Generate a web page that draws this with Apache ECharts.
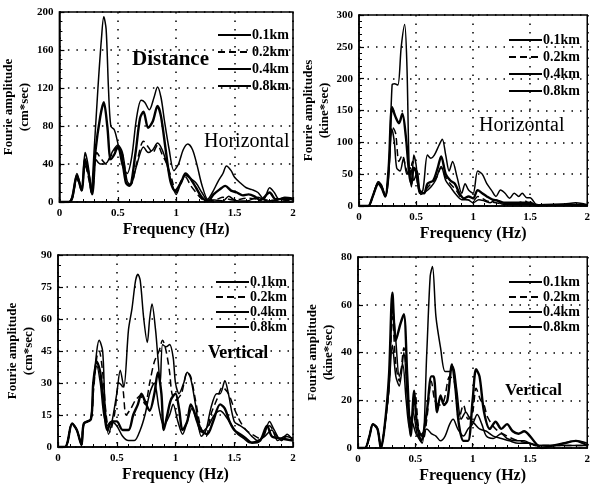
<!DOCTYPE html>
<html>
<head>
<meta charset="utf-8">
<script src="https://cdn.jsdelivr.net/npm/echarts@6/dist/echarts.min.js"></script>
<style>
  html, body { margin: 0; padding: 0; background: #fff; }
  #chart { width: 593px; height: 489px; }
</style>
</head>
<body>
<div id="chart"></div>
<script>
const distances = ['0.1km', '0.2km', '0.4km', '0.8km'];
const freqTicks = [0, 0.5, 1, 1.5, 2];

// horizontal, cm*sec  [freq (Hz), amplitude]
const horCm01 = [[0,0],[0.08,0],[0.11,6],[0.15,30],[0.19,14],[0.22,52],[0.25,35],[0.27,10],[0.3,60],[0.33,120],[0.36,172],[0.38,195],[0.4,182],[0.42,120],[0.44,80],[0.47,76],[0.5,62],[0.54,38],[0.58,30],[0.62,48],[0.66,88],[0.7,107],[0.73,105],[0.77,97],[0.81,110],[0.84,121],[0.87,110],[0.9,85],[0.94,55],[0.98,33],[1.02,40],[1.06,55],[1.1,61],[1.14,55],[1.18,38],[1.22,18],[1.27,3],[1.31,10],[1.36,22],[1.4,30],[1.43,38],[1.47,33],[1.5,26],[1.55,20],[1.6,15],[1.65,13],[1.7,10],[1.75,3],[1.8,15],[1.84,10],[1.88,3],[1.93,5],[2,4]];
const horCm02 = [[0,0],[0.08,0],[0.11,4],[0.15,25],[0.19,12],[0.22,40],[0.25,25],[0.28,10],[0.32,52],[0.36,45],[0.4,40],[0.44,48],[0.5,58],[0.54,50],[0.58,20],[0.61,18],[0.66,40],[0.72,64],[0.76,58],[0.8,52],[0.84,60],[0.88,50],[0.92,40],[0.96,25],[1.0,10],[1.04,22],[1.08,26],[1.12,18],[1.17,10],[1.22,3],[1.28,1],[1.35,3],[1.4,5],[1.45,3],[1.5,2],[1.6,4],[1.7,3],[1.8,2],[1.9,1],[2,2]];
const horCm04 = [[0,0],[0.08,0],[0.11,5],[0.15,28],[0.19,12],[0.22,45],[0.25,30],[0.28,8],[0.31,55],[0.35,90],[0.38,105],[0.41,80],[0.44,45],[0.47,50],[0.5,58],[0.53,50],[0.57,20],[0.6,17],[0.65,50],[0.69,88],[0.72,95],[0.76,78],[0.8,85],[0.84,101],[0.87,90],[0.91,55],[0.95,22],[0.99,12],[1.04,20],[1.08,30],[1.12,25],[1.17,15],[1.22,5],[1.27,1],[1.32,8],[1.37,13],[1.42,17],[1.47,12],[1.52,10],[1.57,7],[1.62,8],[1.67,6],[1.72,2],[1.8,10],[1.85,3],[1.92,3],[2,3]];
const horCm08 = [[0,0],[0.08,0],[0.11,3],[0.15,25],[0.19,14],[0.22,38],[0.25,30],[0.28,12],[0.31,45],[0.35,40],[0.38,40],[0.41,42],[0.45,52],[0.5,60],[0.54,52],[0.58,22],[0.61,18],[0.66,38],[0.72,58],[0.76,52],[0.8,55],[0.84,62],[0.88,55],[0.92,40],[0.96,20],[1.0,8],[1.04,20],[1.08,28],[1.12,25],[1.17,20],[1.22,10],[1.27,2],[1.33,2],[1.4,1],[1.45,6],[1.5,2],[1.6,1],[1.7,5],[1.78,1],[1.85,2],[1.92,4],[2,2]];

// horizontal, kine*sec
const horKine01 = [[0,0],[0.08,0],[0.12,15],[0.17,38],[0.2,32],[0.23,15],[0.26,45],[0.29,190],[0.31,192],[0.34,190],[0.37,250],[0.4,285],[0.42,220],[0.44,60],[0.46,30],[0.48,80],[0.5,65],[0.53,20],[0.56,25],[0.6,80],[0.63,75],[0.66,80],[0.7,95],[0.73,105],[0.76,80],[0.79,55],[0.82,70],[0.86,45],[0.9,20],[0.93,35],[0.96,25],[1.0,20],[1.04,55],[1.08,50],[1.12,35],[1.16,25],[1.2,15],[1.24,25],[1.28,20],[1.32,12],[1.36,20],[1.4,15],[1.43,20],[1.47,13],[1.5,13],[1.55,3],[1.6,2],[1.7,2],[1.8,3],[1.9,5],[2,2]];
const horKine02 = [[0,0],[0.08,0],[0.12,15],[0.17,35],[0.2,28],[0.23,15],[0.26,60],[0.29,125],[0.32,115],[0.35,70],[0.38,80],[0.41,60],[0.44,45],[0.47,70],[0.5,50],[0.54,20],[0.58,25],[0.63,35],[0.68,45],[0.72,60],[0.76,45],[0.8,35],[0.85,25],[0.9,12],[0.95,10],[1.0,8],[1.04,15],[1.08,12],[1.12,8],[1.2,5],[1.3,3],[1.4,5],[1.45,8],[1.5,3],[1.6,1],[2,1]];
const horKine04 = [[0,0],[0.08,0],[0.12,15],[0.17,35],[0.2,28],[0.23,15],[0.26,60],[0.29,155],[0.32,140],[0.35,130],[0.38,145],[0.41,110],[0.44,50],[0.46,35],[0.48,60],[0.5,55],[0.53,25],[0.57,20],[0.6,35],[0.65,40],[0.69,60],[0.72,78],[0.76,50],[0.8,40],[0.84,35],[0.88,20],[0.92,12],[0.96,15],[1.0,12],[1.04,25],[1.08,20],[1.12,15],[1.17,10],[1.22,8],[1.27,5],[1.35,5],[1.45,5],[1.5,5],[1.55,1],[1.7,2],[1.85,2],[2,1]];
const horKine08 = [[0,0],[0.08,0],[0.12,15],[0.17,38],[0.2,30],[0.23,15],[0.26,55],[0.29,120],[0.31,100],[0.33,60],[0.36,55],[0.39,75],[0.42,50],[0.45,60],[0.48,40],[0.51,55],[0.54,18],[0.58,22],[0.63,30],[0.67,40],[0.72,62],[0.76,40],[0.8,30],[0.85,18],[0.9,10],[0.95,10],[1.0,5],[1.05,10],[1.1,8],[1.15,5],[1.2,10],[1.25,3],[1.35,2],[1.5,2],[2,1]];

// vertical, cm*sec
const verCm01 = [[0,0],[0.06,0],[0.08,2],[0.12,11],[0.16,8],[0.2,1],[0.22,11],[0.25,12],[0.28,13],[0.3,28],[0.33,45],[0.35,50],[0.38,45],[0.4,20],[0.43,6],[0.46,12],[0.5,25],[0.53,36],[0.56,28],[0.6,55],[0.63,65],[0.66,78],[0.68,81],[0.7,78],[0.73,60],[0.76,49],[0.78,60],[0.8,67],[0.83,55],[0.85,42],[0.87,30],[0.89,48],[0.92,47],[0.95,48],[0.98,42],[1.0,30],[1.03,25],[1.07,30],[1.1,35],[1.13,32],[1.17,20],[1.22,5],[1.26,8],[1.3,18],[1.35,25],[1.38,25],[1.42,31],[1.45,25],[1.5,12],[1.55,10],[1.6,8],[1.65,5],[1.7,3],[1.75,5],[1.8,12],[1.84,8],[1.9,3],[1.95,6],[2,3]];
const verCm02 = [[0,0],[0.06,0],[0.08,2],[0.12,11],[0.16,8],[0.2,1],[0.22,11],[0.28,13],[0.3,25],[0.33,42],[0.35,45],[0.38,35],[0.41,15],[0.44,7],[0.48,15],[0.52,30],[0.55,28],[0.58,15],[0.62,18],[0.66,22],[0.7,24],[0.74,20],[0.78,30],[0.82,40],[0.86,45],[0.89,50],[0.92,45],[0.95,35],[0.97,25],[1.0,22],[1.05,25],[1.1,35],[1.13,33],[1.17,22],[1.22,8],[1.26,5],[1.3,15],[1.35,22],[1.4,28],[1.45,25],[1.5,18],[1.55,12],[1.6,8],[1.65,6],[1.72,4],[1.8,10],[1.85,6],[1.9,3],[1.95,5],[2,4]];
const verCm04 = [[0,0],[0.06,0],[0.08,2],[0.12,11],[0.16,8],[0.2,1],[0.22,11],[0.28,13],[0.3,30],[0.33,40],[0.36,35],[0.39,20],[0.42,8],[0.46,12],[0.5,12],[0.55,8],[0.6,8],[0.64,15],[0.68,20],[0.71,25],[0.75,20],[0.78,17],[0.82,25],[0.85,35],[0.88,25],[0.9,8],[0.93,15],[0.96,22],[1.0,25],[1.03,18],[1.06,8],[1.1,12],[1.13,20],[1.17,15],[1.22,8],[1.27,6],[1.32,12],[1.38,20],[1.42,18],[1.46,12],[1.5,8],[1.55,6],[1.6,4],[1.65,2],[1.72,3],[1.78,10],[1.82,5],[1.9,4],[2,3]];
const verCm08 = [[0,0],[0.06,0],[0.08,2],[0.12,11],[0.16,8],[0.2,1],[0.22,11],[0.28,13],[0.3,28],[0.33,38],[0.36,30],[0.39,15],[0.42,10],[0.45,12],[0.5,10],[0.55,5],[0.6,3],[0.65,3],[0.7,8],[0.74,15],[0.78,25],[0.82,30],[0.86,18],[0.9,10],[0.95,15],[0.98,20],[1.02,12],[1.06,6],[1.1,12],[1.14,18],[1.18,12],[1.22,7],[1.28,10],[1.33,15],[1.38,17],[1.42,15],[1.48,10],[1.53,6],[1.58,4],[1.63,2],[1.7,3],[1.76,5],[1.82,8],[1.87,3],[1.93,5],[2,4]];

// vertical, kine*sec
const verKine01 = [[0,0],[0.06,0],[0.1,5],[0.13,10],[0.17,8],[0.2,0],[0.23,8],[0.27,25],[0.3,60],[0.33,45],[0.36,30],[0.39,35],[0.42,20],[0.45,8],[0.48,15],[0.52,5],[0.56,2],[0.6,40],[0.63,72],[0.65,76],[0.68,55],[0.72,42],[0.76,32],[0.8,32],[0.83,34],[0.86,25],[0.9,12],[0.94,15],[0.98,12],[1.02,10],[1.06,8],[1.12,7],[1.18,5],[1.25,4],[1.32,3],[1.4,2],[1.5,2],[1.55,1],[1.7,1],[1.8,2],[1.9,3],[2,2]];
const verKine02 = [[0,0],[0.06,0],[0.1,5],[0.13,10],[0.17,8],[0.2,0],[0.23,8],[0.27,25],[0.3,55],[0.33,35],[0.36,28],[0.4,42],[0.43,25],[0.46,8],[0.5,22],[0.53,8],[0.57,4],[0.6,12],[0.64,28],[0.67,20],[0.71,18],[0.75,20],[0.8,30],[0.84,28],[0.88,12],[0.92,18],[0.96,12],[1.0,15],[1.03,25],[1.07,20],[1.1,18],[1.13,13],[1.2,8],[1.3,5],[1.4,3],[1.5,2],[1.6,1],[2,1]];
const verKine04 = [[0,0],[0.06,0],[0.1,5],[0.13,10],[0.17,8],[0.2,0],[0.23,8],[0.27,30],[0.3,65],[0.33,45],[0.37,52],[0.4,56],[0.43,30],[0.46,5],[0.49,24],[0.51,12],[0.55,3],[0.6,15],[0.64,30],[0.66,30],[0.69,15],[0.72,22],[0.75,18],[0.78,20],[0.82,35],[0.85,25],[0.88,10],[0.92,3],[0.96,3],[1.0,20],[1.03,33],[1.06,30],[1.1,15],[1.15,8],[1.2,11],[1.25,8],[1.3,10],[1.35,7],[1.4,6],[1.45,7],[1.5,5],[1.55,2],[1.6,0],[1.7,1],[1.8,2],[1.9,3],[2,1]];
const verKine08 = [[0,0],[0.06,0],[0.1,5],[0.13,10],[0.17,8],[0.2,0],[0.23,8],[0.27,25],[0.3,43],[0.33,30],[0.36,26],[0.4,40],[0.44,15],[0.48,10],[0.52,5],[0.56,6],[0.6,8],[0.64,6],[0.68,5],[0.72,3],[0.76,5],[0.8,10],[0.83,12],[0.87,8],[0.92,5],[0.96,8],[1.0,10],[1.04,14],[1.08,10],[1.12,5],[1.18,4],[1.25,6],[1.3,4],[1.38,3],[1.45,3],[1.5,2],[1.55,1],[2,1]];

const serif = '"Liberation Serif", "DejaVu Serif", serif';

const lineStyles = {
  '0.1km': { color: '#000', width: 1.5 },
  '0.2km': { color: '#000', width: 1.5, type: [7, 4] },
  '0.4km': { color: '#000', width: 2.4 },
  '0.8km': { color: '#000', width: 1.5 },
};

const panels = [
  { grid: { left: 59, top: 12, width: 234, height: 190 }, yMax: 200, yStep: 40, yMinor: 4,
    yName: 'Fourie amplitude\n(cm*sec)', legend: { left: 217, top: 28 }, itemGap: 3,
    series: [horCm01, horCm02, horCm04, horCm08] },
  { grid: { left: 359, top: 15, width: 233, height: 191 }, yMax: 300, yStep: 50, yMinor: 5,
    yName: 'Fourie amplitudes\n(kine*sec)', legend: { left: 508, top: 33 }, itemGap: 3,
    series: [horKine01, horKine02, horKine04, horKine08] },
  { grid: { left: 58, top: 255, width: 235, height: 192 }, yMax: 90, yStep: 15, yMinor: 3,
    yName: 'Fourie amplitude\n(cm*sec)', legend: { left: 215, top: 275 }, itemGap: 1,
    series: [verCm01, verCm02, verCm04, verCm08] },
  { grid: { left: 358, top: 257, width: 234, height: 191 }, yMax: 80, yStep: 20, yMinor: 4,
    yName: 'Fourie amplitude\n(kine*sec)', legend: { left: 508, top: 275 }, itemGap: 1,
    series: [verKine01, verKine02, verKine04, verKine08] },
];

const dotted = { color: '#000', width: 1.5, type: [1.5, 7] };
const tickLabel = { fontFamily: serif, fontWeight: 'bold', fontSize: 11, color: '#000' };

const option = {
  backgroundColor: '#fff',
  animation: false,
  color: ['#000'],
  grid: panels.map(p => Object.assign({ show: true, borderColor: '#000', borderWidth: 1.5, backgroundColor: 'transparent' }, p.grid)),
  xAxis: panels.map((p, i) => ({
    type: 'value', gridIndex: i, min: 0, max: 2, interval: 0.5,
    name: 'Frequency (Hz)', nameLocation: 'middle', nameGap: 20,
    nameTextStyle: { fontFamily: serif, fontWeight: 'bold', fontSize: 16, color: '#000' },
    axisLine: { lineStyle: { color: '#000', width: 1.5 } },
    axisTick: { inside: true, length: 5, lineStyle: { color: '#000', width: 1.2 } },
    minorTick: { show: true, splitNumber: 5, length: 3, lineStyle: { color: '#000', width: 1 } },
    splitLine: { show: true, lineStyle: dotted },
    axisLabel: Object.assign({ margin: 6, formatter: v => (freqTicks.includes(v) ? String(v) : '') }, tickLabel),
  })),
  yAxis: panels.map((p, i) => ({
    type: 'value', gridIndex: i, min: 0, max: p.yMax, interval: p.yStep,
    name: p.yName, nameLocation: 'middle', nameGap: 20,
    nameTextStyle: { fontFamily: serif, fontWeight: 'bold', fontSize: 13, lineHeight: 16, color: '#000' },
    axisLine: { lineStyle: { color: '#000', width: 1.5 } },
    axisTick: { inside: true, length: 5, lineStyle: { color: '#000', width: 1.2 } },
    minorTick: { show: true, splitNumber: p.yMinor, length: 3, lineStyle: { color: '#000', width: 1 } },
    splitLine: { show: true, lineStyle: dotted },
    axisLabel: Object.assign({ margin: 6 }, tickLabel),
  })),
  legend: panels.map(p => ({
    data: distances, orient: 'vertical', left: p.legend.left, top: p.legend.top,
    itemWidth: 33, itemHeight: 14, itemGap: p.itemGap, selectedMode: false, padding: 0,
    itemStyle: { opacity: 0 },
    textStyle: { fontFamily: serif, fontWeight: 'bold', fontSize: 14, color: '#000', padding: [0, 0, 0, -4] },
  })),
  series: [],
  graphic: [
    { type: 'text', left: 132, top: 49, style: { text: 'Distance', font: 'bold 21px ' + serif, fill: '#000' } },
    { type: 'text', left: 204, top: 132, style: { text: 'Horizontal', font: '20px ' + serif, fill: '#000' } },
    { type: 'text', left: 479, top: 116, style: { text: 'Horizontal', font: '20px ' + serif, fill: '#000' } },
    { type: 'text', left: 208, top: 344, style: { text: 'Vertical', font: 'bold 18px ' + serif, fill: '#000' } },
    { type: 'text', left: 505, top: 382, style: { text: 'Vertical', font: 'bold 17px ' + serif, fill: '#000' } },
  ],
};

panels.forEach((p, i) => {
  p.series.forEach((data, k) => {
    option.series.push({
      type: 'line', name: distances[k], data: data,
      xAxisIndex: i, yAxisIndex: i,
      symbol: 'none', smooth: 0.3, silent: true,
      lineStyle: lineStyles[distances[k]],
      itemStyle: { color: '#000' },
      z: 3,
    });
  });
});

const chart = echarts.init(document.getElementById('chart'), null, { renderer: 'canvas' });
chart.setOption(option);
</script>
</body>
</html>
